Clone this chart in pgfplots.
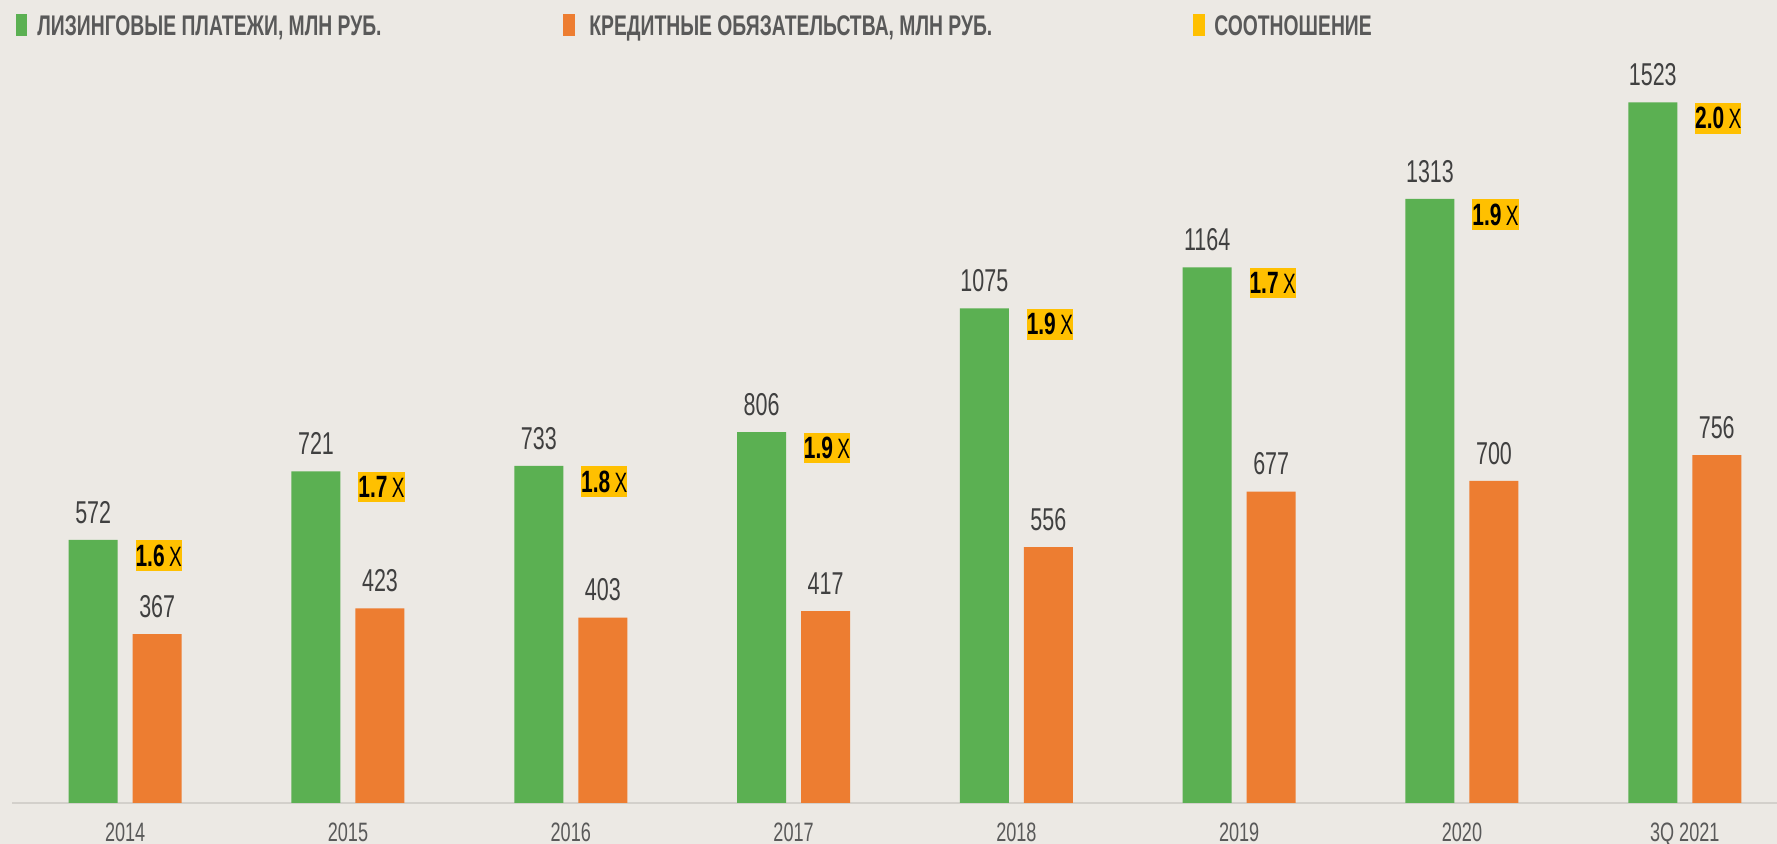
\documentclass[border=0pt]{standalone}
\usepackage{fontspec}
\setmainfont{Liberation Sans}[FakeStretch=0.68]
\usepackage{pgfplots}
\pgfplotsset{compat=1.18}
\definecolor{bg}{HTML}{ECE9E4}
\definecolor{grn}{HTML}{5BB052}
\definecolor{org}{HTML}{ED7D31}
\definecolor{yel}{HTML}{FFC000}
\definecolor{tickg}{HTML}{595959}
\definecolor{numg}{HTML}{404040}
\definecolor{lineg}{HTML}{D3D0CB}
\begin{document}
\begin{tikzpicture}
\useasboundingbox (0pt,0pt) rectangle (888.5pt,422pt);
\fill[bg] (0pt,0pt) rectangle (888.5pt,422pt);
\begin{axis}[
  at={(6pt,20.5pt)}, anchor=south west,
  scale only axis, width=882.5pt, height=371.5pt,
  xmin=-0.508, xmax=7.414, ymin=0, ymax=1615,
  axis x line=bottom, axis y line=none,
  x axis line style={draw=lineg, line width=1pt, -},
  xtick={0,1,2,3,4,5,6,7},
  xticklabels={2014,2015,2016,2017,2018,2019,2020,3Q 2021},
  major tick length=0pt,
  xticklabel style={font=\fontsize{13.3}{14}\selectfont, text=tickg, yshift=-6.5pt},
  /pgf/number format/assume math mode=true,
  /pgf/number format/1000 sep={},
  clip=false,
  bar width=24.5pt,
]
\addplot[ybar, fill=grn, draw=none, bar shift=-16pt,
  nodes near coords,
  every node near coord/.append style={anchor=south, inner sep=0pt, yshift=8pt, xshift=-16pt,
    font=\fontsize{15.8}{16}\selectfont, text=numg}]
  coordinates {(0,572) (1,721) (2,733) (3,806) (4,1075) (5,1164) (6,1313) (7,1523)};
\addplot[ybar, fill=org, draw=none, bar shift=16pt,
  nodes near coords,
  every node near coord/.append style={anchor=south, inner sep=0pt, yshift=8pt, xshift=16pt,
    font=\fontsize{15.8}{16}\selectfont, text=numg}]
  coordinates {(0,367) (1,423) (2,403) (3,417) (4,556) (5,677) (6,700) (7,756)};
\addplot[ybar, fill=none, draw=none, bar shift=5pt,
  point meta=explicit symbolic,
  nodes near coords={\textbf{\pgfplotspointmeta}\hspace{2.2pt}{\fontsize{14}{16}\selectfont X}},
  every node near coord/.append style={anchor=north west, fill=yel, xshift=5pt,
    inner xsep=0pt, inner ysep=2.25pt,
    font=\fontsize{15.4}{16}\selectfont, text=black}]
  coordinates {(0,572)[1.6] (1,721)[1.7] (2,733)[1.8] (3,806)[1.9] (4,1075)[1.9] (5,1164)[1.7] (6,1313)[1.9] (7,1523)[2.0]};
\end{axis}
\fill[grn] (8pt,404pt) rectangle (13.5pt,415pt);
\node[anchor=base west, inner sep=0pt, text=tickg, font=\bfseries\fontsize{14.2}{15}\selectfont] at (18.5pt,404pt) {ЛИЗИНГОВЫЕ ПЛАТЕЖИ, МЛН РУБ.};
\fill[org] (281.5pt,404pt) rectangle (287.5pt,415pt);
\node[anchor=base west, inner sep=0pt, text=tickg, font=\bfseries\fontsize{14.2}{15}\selectfont] at (294.5pt,404pt) {КРЕДИТНЫЕ ОБЯЗАТЕЛЬСТВА, МЛН РУБ.};
\fill[yel] (596.5pt,404pt) rectangle (602.5pt,415pt);
\node[anchor=base west, inner sep=0pt, text=tickg, font=\bfseries\fontsize{14.2}{15}\selectfont] at (607pt,404pt) {СООТНОШЕНИЕ};
\end{tikzpicture}
\end{document}
